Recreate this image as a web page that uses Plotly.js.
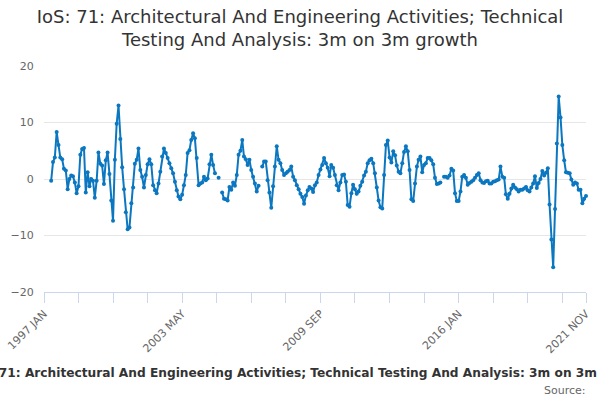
<!DOCTYPE html>
<html>
<head>
<meta charset="utf-8">
<script src="https://cdn.plot.ly/plotly-3.0.1.min.js"></script>
<style>
  html, body { margin: 0; padding: 0; background: #fff; }
  #chart { width: 600px; height: 400px; }
</style>
</head>
<body>
<div id="chart"></div>
<script>
// monthly series, first value is May 1997, last is Nov 2021 (null = no value)
const firstYear = 1997;
const firstMonth = 5;
const growth = [
  -0.3, 3.0, 3.8, 8.3, 6.0, 3.8, 3.5, 1.8,                          // 1997 May-Dec
  1.5, -1.8, 0.0, 0.6, 0.5, -0.6, -2.5, -1.3, 4.3, 5.3, 5.5, -2.4,  // 1998
  1.2, -1.3, 0.0, -0.3, -3.3, -0.3, 4.7, 2.7, 2.4, -0.9, 3.3, 4.7,  // 1999
  0.9, -3.8, -7.4, 3.4, 9.8, 13.0, 7.1, 2.1, -1.8, -5.9, -8.9, -8.6, // 2000
  -4.3, -1.5, 2.7, 3.4, 5.4, 1.6, 0.4, -1.5, 0.7, 2.6, 3.5, 2.6,    // 2001
  -1.1, -2.0, -2.5, -0.8, 1.3, 4.0, 5.4, 4.6, 3.7, 2.8, 1.9, 1.0,   // 2002
  -0.5, -2.0, -3.1, -3.6, -2.8, -1.1, 0.7, 4.6, 5.1, 6.9, 8.1, 7.2, // 2003
  3.7, -1.1, -0.8, -0.6, 0.4, -0.2, 0.1, 2.6, 4.3, 2.5, 1.0, null,  // 2004
  0.2, null, -2.4, -3.5, -3.6, -3.8, -1.4, -1.9, -0.6, -1.2, 0.7, 4.3, // 2005
  5.0, 6.9, 4.0, 3.5, 2.5, 3.4, 1.6, 0.4, -0.8, -2.2, -1.2, null,   // 2006
  2.2, 3.1, 3.1, -0.2, -2.4, -5.1, -1.3, 2.2, 5.8, 3.4, 2.8, 1.6,   // 2007
  0.7, 1.0, 1.3, 1.6, 2.2, 0.4, -0.2, -1.1, -1.8, -2.6, -3.2, -4.4, // 2008
  -2.9, -2.0, -1.4, -1.7, -2.3, -1.1, -0.6, 0.7, 1.7, 2.5, 3.7, 2.8, // 2009
  2.0, 0.5, 2.5, 2.0, 0.7, -1.1, -2.0, -0.6, 0.7, 0.8, -0.5, -4.6,  // 2010
  -4.9, -2.5, -1.0, -1.8, -2.6, -2.2, -1.2, -0.5, 0.6, 1.3, 2.8, 3.3, // 2011
  3.6, 2.8, 1.0, -1.5, -3.8, -5.0, -5.2, 0.7, 6.0, 6.8, 3.8, 2.9,   // 2012
  4.9, 4.2, 2.4, 1.3, 1.0, 2.8, 4.8, 5.8, 4.9, 1.6, -3.6, -3.9,     // 2013
  -0.8, 2.2, 3.4, 4.0, 1.2, 2.5, 2.8, 3.7, 3.7, 3.3, 2.6, 0.2,      // 2014
  -0.9, -0.8, -0.6, null, 0.4, 0.4, 0.2, 0.6, 1.8, 1.5, -2.5, -3.9, // 2015
  -3.9, -2.2, 0.4, 0.7, 0.2, -1.0, -0.7, -0.5, -0.2, 0.2, 0.7, 1.0, // 2016
  -0.2, -0.6, -0.7, -0.4, -0.3, -0.8, -0.8, -0.5, -0.4, -0.2, -0.1, 2.2, // 2017
  0.4, 0.2, -2.7, -3.5, -2.6, -1.7, -1.0, -1.5, -1.8, -2.2, -1.9, -1.9, // 2018
  -1.7, -1.4, -2.0, -2.2, -1.5, -0.8, 0.5, -1.6, -0.7, 0.0, 1.4, 0.6, // 2019
  1.1, 1.9, -4.5, -10.7, -15.6, -5.3, 6.3, 14.6, 10.9, 6.0, 3.3, 1.2, // 2020
  1.1, 1.0, -0.1, -1.0, -0.6, -0.8, -1.9, -1.9, -4.3, -3.5, -3.0     // 2021 Jan-Nov
];

const tickDates = ['1997-01-01', '1998-08-01', '2000-03-01', '2001-10-01', '2003-05-01',
  '2004-12-01', '2006-07-01', '2008-02-01', '2009-09-01', '2011-04-01', '2012-11-01',
  '2014-06-01', '2016-01-01', '2017-08-01', '2019-03-01', '2020-10-01', '2021-11-01'];
const tickLabels = ['1997 JAN', '', '', '', '2003 MAY', '', '', '', '2009 SEP', '', '', '',
  '2016 JAN', '', '', '', '2021 NOV'];
const yTicks = [-20, -10, 0, 10, 20];

const seriesName = 'IoS: 71: Architectural And Engineering Activities; Technical Testing And Analysis: 3m on 3m growth';
const chartTitle = 'IoS: 71: Architectural And Engineering Activities; Technical<br>Testing And Analysis: 3m on 3m growth';

// month labels for each value
const months = growth.map((v, i) => {
  const n = (firstMonth - 1) + i;
  const y = firstYear + Math.floor(n / 12);
  const m = (n % 12) + 1;
  return y + '-' + String(m).padStart(2, '0') + '-01';
});

const font = 'DejaVu Sans, Verdana, sans-serif';

const trace = {
  x: months,
  y: growth,
  name: seriesName,
  type: 'scatter',
  mode: 'lines+markers',
  connectgaps: false,
  cliponaxis: false,
  line: { color: '#0b77c0', width: 2 },
  marker: { color: '#0b77c0', size: 4 },
  hoverinfo: 'skip'
};

const layout = {
  width: 600,
  height: 400,
  paper_bgcolor: '#ffffff',
  plot_bgcolor: '#ffffff',
  margin: { l: 44, r: 14, t: 66, b: 108 },
  showlegend: false,
  font: { family: font, color: '#666666', size: 11 },
  title: {
    text: chartTitle,
    x: 0.5,
    xanchor: 'center',
    y: 0.9425,
    yanchor: 'top',
    yref: 'container',
    font: { family: font, size: 18, color: '#333333' }
  },
  xaxis: {
    type: 'date',
    range: ['1997-01-01', '2021-11-01'],
    tickmode: 'array',
    tickvals: tickDates,
    ticktext: tickLabels,
    tickangle: -45,
    ticks: 'outside',
    ticklen: 10,
    tickcolor: '#ccd6eb',
    showline: true,
    linecolor: '#ccd6eb',
    linewidth: 1,
    showgrid: false,
    zeroline: false,
    tickfont: { family: font, size: 11, color: '#666666' }
  },
  yaxis: {
    range: [-20, 20],
    tickmode: 'array',
    tickvals: yTicks,
    showgrid: true,
    gridcolor: '#e6e6e6',
    zeroline: false,
    showline: false,
    // invisible ticks push the labels further left
    ticks: 'outside',
    ticklen: 7,
    tickcolor: 'rgba(0,0,0,0)',
    tickfont: { family: font, size: 11, color: '#666666' }
  },
  annotations: [
    {
      text: '<b>' + seriesName + '</b>',
      xref: 'paper', yref: 'paper',
      x: 0.5, y: -0.358,
      xshift: -6,
      xanchor: 'center', yanchor: 'middle',
      showarrow: false,
      font: { family: font, size: 12.2, color: '#333333' }
    },
    {
      text: 'Source:',
      xref: 'paper', yref: 'paper',
      x: 1.004, y: -0.438,
      xanchor: 'right', yanchor: 'middle',
      showarrow: false,
      font: { family: font, size: 11, color: '#666666' }
    }
  ]
};

Plotly.newPlot('chart', [trace], layout, { displayModeBar: false, staticPlot: true });
</script>
</body>
</html>
